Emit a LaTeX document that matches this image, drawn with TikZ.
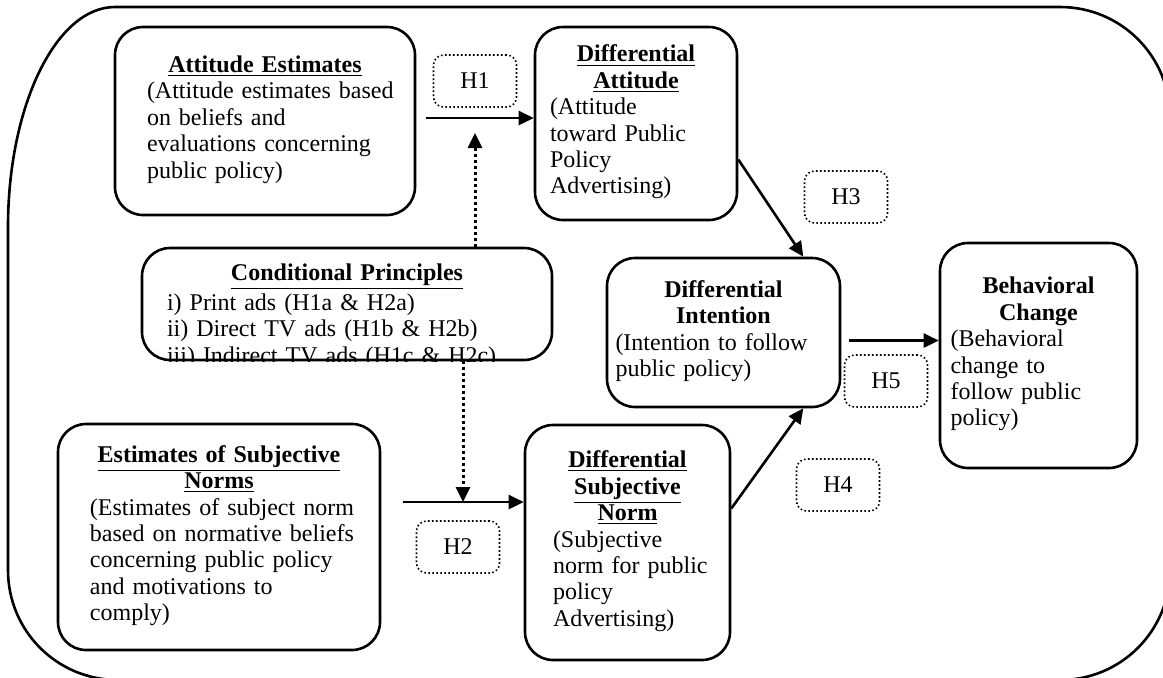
\documentclass[tikz,border=0pt]{standalone}
\usepackage{fontspec}
\setmainfont{Liberation Serif}
\usetikzlibrary{arrows.meta}
\setlength\parindent{0pt}
\newcommand\ttl[1]{{\centering\bfseries#1\par}}
\newcommand\bdy[1]{\noindent\begin{tabular}[t]{@{}l@{}}#1\end{tabular}}
\begin{document}
\begin{tikzpicture}[x=0.5pt, y=-0.5pt, >={Triangle[length=7.5pt,width=7pt]}, font=\fontsize{12}{13.2}\selectfont, line join=round,
  blk/.style={draw, line width=1.3pt, rounded corners=14pt, inner sep=0pt, align=left},
  hyp/.style={draw, line width=0.8pt, dash pattern=on 0.8pt off 1.2pt, rounded corners=5pt, minimum width=41.5pt, minimum height=26pt, inner sep=0pt},
  arr/.style={->, line width=1.3pt},
  dotarr/.style={->, line width=1.5pt, dash pattern=on 1.5pt off 1.5pt}]
\useasboundingbox (0,0) rectangle (1163,677);
\draw[line width=1.3pt] (8,227) .. controls (8,106) and (56,7) .. (115,7) -- (1060,7)
  .. controls (1121,7) and (1170,56) .. (1170,117) -- (1170,570)
  .. controls (1170,631) and (1121,680) .. (1060,680) -- (118,680)
  .. controls (57,680) and (8,631) .. (8,570) -- cycle;
\node[blk, minimum width=150pt, minimum height=94pt, text width=118pt] (ae) at (265,121)
  {\ttl{\underline{Attitude Estimates}}\bdy{(Attitude estimates based\\on beliefs and\\evaluations concerning\\public policy)}};
\node[blk, minimum width=101pt, minimum height=96.5pt, text width=86pt] (da) at (636,123.5)
  {\ttl{\underline{Differential}\\\underline{Attitude}}\bdy{(Attitude\\toward Public\\Policy\\Advertising)}};
\node[blk, minimum width=205pt, minimum height=56pt] (cp) at (347,304) {};
\begin{scope}
\clip (cp.south west) rectangle (cp.north east);
\node[anchor=north, align=left, inner sep=0pt, text width=180pt] (cpt) at ([yshift=-8.5pt]cp.north)
  {\ttl{\underline{Conditional Principles}}\bdy{i) Print ads (H1a \& H2a)\\ii) Direct TV ads (H1b \& H2b)\\iii) Indirect TV ads (H1c \& H2c)}};
\end{scope}
\node[blk, minimum width=116.5pt, minimum height=74.5pt, text width=108pt] (di) at (723.5,332.5)
  {\ttl{Differential\\Intention}\bdy{(Intention to follow\\public policy)}};
\node[blk, minimum width=98.5pt, minimum height=112.5pt, text width=88pt] (bc) at (1038.5,355.5)
  {\ttl{Behavioral\\Change}\bdy{(Behavioral\\change to\\follow public\\policy)}};
\node[blk, minimum width=161pt, minimum height=113pt, text width=129pt] (esn) at (219,537)
  {\ttl{\underline{Estimates of Subjective}\\\underline{Norms}}\bdy{(Estimates of subject norm\\based on normative beliefs\\concerning public policy\\and motivations to\\comply)}};
\node[blk, minimum width=102.5pt, minimum height=117.5pt, text width=74.5pt] (dsn) at (627.5,542.5)
  {\ttl{\underline{Differential}\\\underline{Subjective}\\\underline{Norm}}\bdy{(Subjective\\norm for public\\policy\\Advertising)}};
\foreach \n/\x/\y in {1/475/81, 2/458/547, 3/846/197, 4/838/485, 5/886/381}
  \node[hyp] (h\n) at (\x,\y) {H\n};
\coordinate (a1) at ([xshift=5pt,yshift=1.5pt]ae.east);
\coordinate (a2) at ([xshift=11pt,yshift=17.5pt]esn.east);
\draw[arr] (a1) -- (a1 -| da.west);
\draw[arr] (a2) -- (a2 -| dsn.west);
\draw[dotarr] ([xshift=64pt]cp.north) -- ([xshift=64pt,yshift=-7.5pt]cp.north |- a1);
\draw[dotarr] ([xshift=58pt]cp.south) -- ([xshift=58pt]cp.south |- a2);
\draw[arr] ([yshift=-18pt]da.east) -- ([xshift=-19pt]di.north east);
\draw[arr] ([yshift=17pt]dsn.east) -- ([xshift=-19pt]di.south east);
\draw[arr] ([xshift=4pt,yshift=-4pt]di.east) -- ([yshift=-4pt]di.east -| bc.west);
\end{tikzpicture}
\end{document}
